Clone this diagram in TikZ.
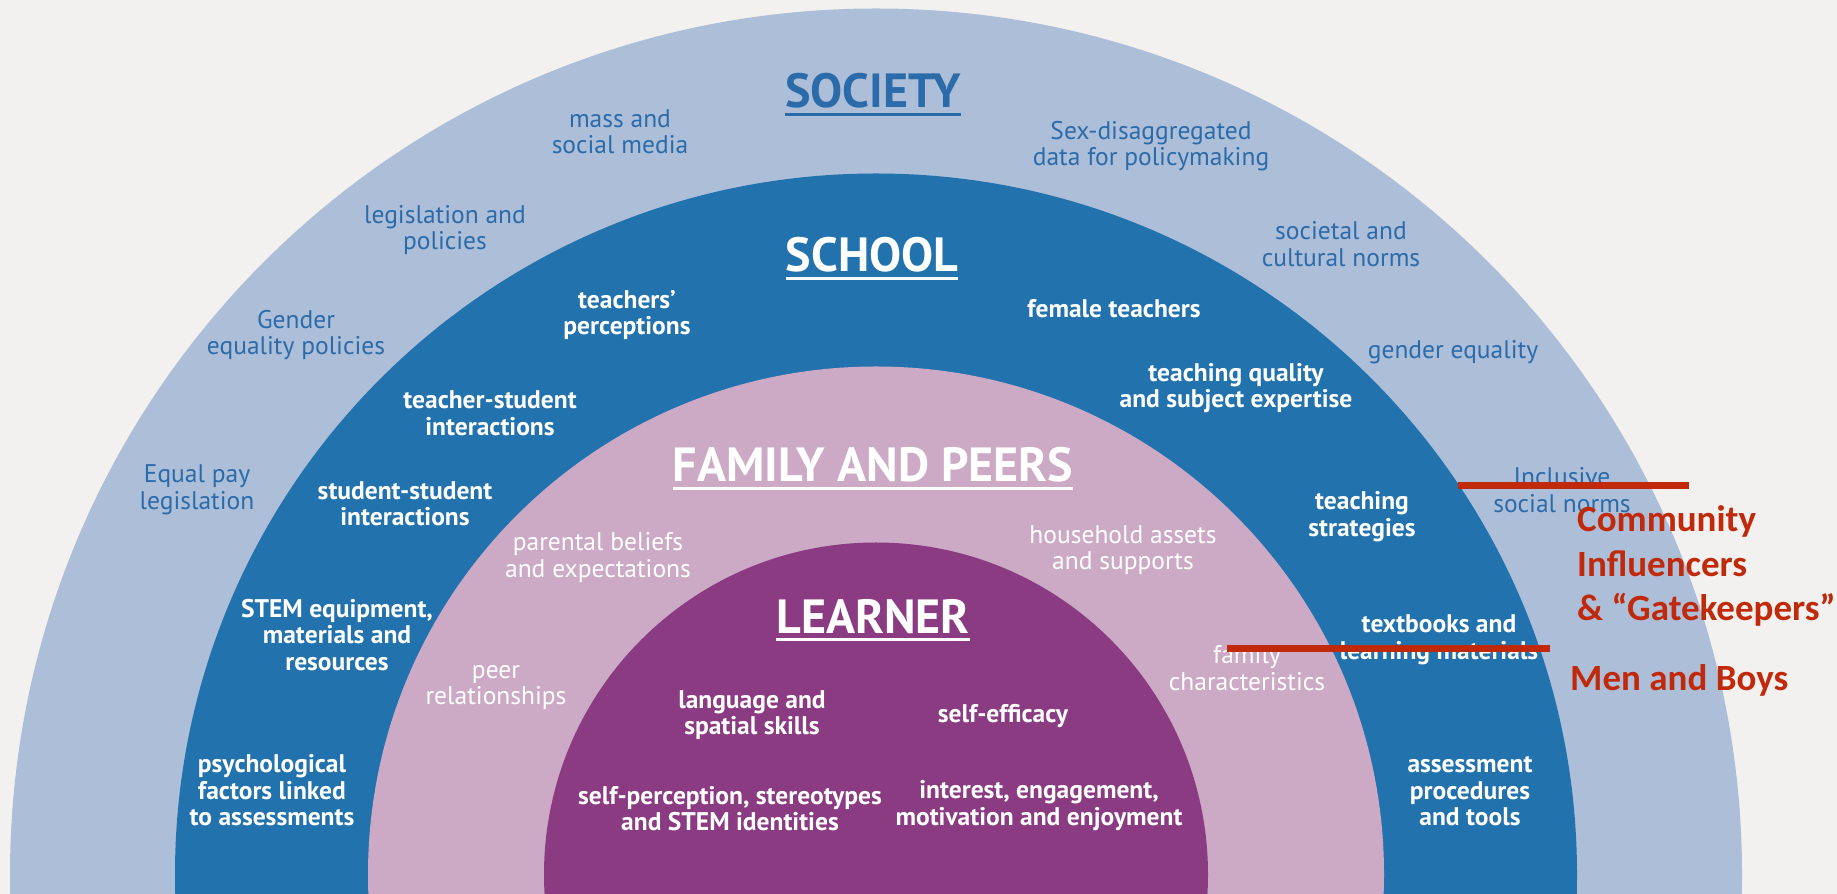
\documentclass[tikz,border=0pt]{standalone}
\usepackage{fontspec}
\setmainfont{PT Sans}
\newfontfamily\carlito{Carlito}
\usetikzlibrary{positioning}
\definecolor{bggrey}{HTML}{F2F1EF}
\definecolor{socfill}{HTML}{ADBED8}
\definecolor{schfill}{HTML}{2272AE}
\definecolor{famfill}{HTML}{CCAAC5}
\definecolor{lrnfill}{HTML}{8A3B82}
\definecolor{socblue}{HTML}{2B6BAA}
\definecolor{annred}{HTML}{C1290B}
\newcommand{\headline}[1]{\vtop{\hbox{#1}\kern4pt\hrule height 3pt}}
\begin{document}
\begin{tikzpicture}[x=1pt, y=1pt,
  lbl/.style={align=center, inner sep=0pt, font=\fontsize{25.5}{26.5}\selectfont},
  soclbl/.style={lbl, text=socblue},
  whitelbl/.style={lbl, text=white},
  boldlbl/.style={lbl, text=white, font=\bfseries\fontsize{25.5}{26.5}\selectfont},
  heading/.style={anchor=base, inner sep=0pt, font=\bfseries\fontsize{48}{52}\selectfont},
  annot/.style={anchor=base west, inner sep=0pt, text=annred, font=\carlito\bfseries\fontsize{37}{44}\selectfont},
  redline/.style={annred, line width=7pt}]
\useasboundingbox (0,0) rectangle (1837,894);
\fill[bggrey] (0,0) rectangle (1837,894);
\begin{scope}
\clip (0,0) rectangle (1837,894);
\fill[socfill] (876,19.5) circle[radius=866];
\fill[schfill] (876,19.5) circle[radius=701];
\fill[famfill] (876,19.5) circle[radius=508];
\fill[lrnfill] (876,19.5) circle[radius=332];
\end{scope}

\node[heading, text=socblue](society) at (873,786) {\headline{SOCIETY}};
\node[heading, text=white](school) at (872,622) {\headline{SCHOOL}};
\node[heading, text=white](famhead) at (873,412) {\headline{FAMILY AND PEERS}};
\node[heading, text=white](learner) at (873,260) {\headline{LEARNER}};

\node[soclbl](media) at (620,762.5) {mass and\\social media};
\node[soclbl](legis) at (445,664) {legislation and\\policies};
\node[soclbl](genpol) at (296,559) {Gender\\equality policies};
\node[soclbl](equalpay) at (197,404) {Equal pay\\legislation};
\node[soclbl](sexdata) at (1151,748) {Sex-disaggregated\\data for policymaking};
\node[soclbl](norms) at (1341,650) {societal and\\cultural norms};
\node[soclbl](genequal) at (1453,541.5) {gender equality};
\node[soclbl](inclusive) at (1562,404) {Inclusive\\social norms};

\node[boldlbl](perception) at (627,579) {teachers'\\perceptions};
\node[boldlbl](tsinter) at (490,480.5) {teacher-student\\interactions};
\node[boldlbl](ssinter) at (405,390) {student-student\\interactions};
\node[boldlbl](equip) at (337,259) {STEM equipment,\\materials and\\resources};
\node[boldlbl](psych) at (272,103.5) {psychological\\factors linked\\to assessments};
\node[boldlbl](female) at (1114,585) {female teachers};
\node[boldlbl](quality) at (1236,506) {teaching quality\\and subject expertise};
\node[boldlbl](strategy) at (1362,377.5) {teaching\\strategies};
\node[boldlbl](textbook) at (1439,254) {textbooks and\\learning materials};
\node[boldlbl](assess) at (1470,102.5) {assessment\\procedures\\and tools};

\node[whitelbl](parental) at (598,336.5) {parental beliefs\\and expectations};
\node[whitelbl](peer) at (496,206.5) {peer\\relationships};
\node[whitelbl](assets) at (1123,344) {household assets\\and supports};
\node[whitelbl](famchar) at (1247,226) {family\\characteristics};

\node[boldlbl](spatial) at (752,179) {language and\\spatial skills};
\node[boldlbl](selfperc) at (730,85.5) {self-perception, stereotypes\\and STEM identities};
\node[boldlbl](efficacy) at (1003,177.5) {self-efficacy};
\node[boldlbl](interest) at (1039,88.5) {interest, engagement,\\motivation and enjoyment};

\coordinate (strikeA) at (1458,408);
\coordinate (strikeB) at (1689,408);
\draw[redline](strikeA)--(strikeB);
\coordinate (strikeC) at (1227,245);
\coordinate (strikeD) at (1550,245);
\draw[redline](strikeC)--(strikeD);

\node[annot](community) at (1577,362) {Community};
\node[annot](influencers) at ([yshift=-44.5pt]community.base west) {Influencers};
\node[annot](gatekeepers) at ([yshift=-44.5pt]influencers.base west) {\& “Gatekeepers”};
\node[annot](menboys) at (1570,203) {Men and Boys};
\end{tikzpicture}
\end{document}
